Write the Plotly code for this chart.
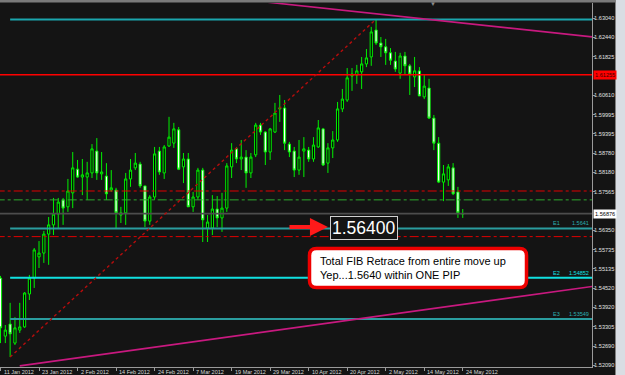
import plotly.graph_objects as go
import pandas as pd

# ---------------- data ----------------
dates = pd.bdate_range("2012-01-11", "2012-05-24")  # 97 daily bars
open_ = [1.5484, 1.5301, 1.5339, 1.5279, 1.5320, 1.5330, 1.5434, 1.5484, 1.5551, 1.5563,
         1.5623, 1.5652, 1.5686, 1.5731, 1.5709, 1.5753, 1.5828, 1.5803, 1.5803, 1.5816,
         1.5885, 1.5813, 1.5806, 1.5762, 1.5762, 1.5683, 1.5690, 1.5797, 1.5832, 1.5844,
         1.5775, 1.5664, 1.5740, 1.5885, 1.5816, 1.5901, 1.5910, 1.5952, 1.5835, 1.5860,
         1.5709, 1.5740, 1.5825, 1.5642, 1.5642, 1.5702, 1.5674, 1.5705, 1.5835, 1.5892,
         1.5860, 1.5866, 1.5816, 1.5873, 1.5967, 1.5945, 1.5882, 1.5945, 1.6018, 1.6021,
         1.5907, 1.5885, 1.5825, 1.5885, 1.5888, 1.5860, 1.5898, 1.5955, 1.5847, 1.5895,
         1.5920, 1.6018, 1.6046, 1.6122, 1.6125, 1.6135, 1.6160, 1.6182, 1.6267, 1.6226,
         1.6214, 1.6195, 1.6169, 1.6131, 1.6185, 1.6154, 1.6119, 1.6138, 1.6056, 1.6084,
         1.5989, 1.5910, 1.5787, 1.5794, 1.5832, 1.5756, 1.5686]
high = [1.5491, 1.5336, 1.5406, 1.5361, 1.5406, 1.5440, 1.5494, 1.5579, 1.5601, 1.5633,
        1.5677, 1.5737, 1.5737, 1.5737, 1.5797, 1.5882, 1.5857, 1.5860, 1.5851, 1.5907,
        1.5926, 1.5882, 1.5847, 1.5825, 1.5769, 1.5709, 1.5816, 1.5860, 1.5879, 1.5851,
        1.5775, 1.5746, 1.5898, 1.5898, 1.5904, 1.5993, 1.5974, 1.5961, 1.5879, 1.5879,
        1.5756, 1.5832, 1.5832, 1.5683, 1.5746, 1.5743, 1.5753, 1.5847, 1.5910, 1.5898,
        1.5920, 1.5888, 1.5879, 1.5974, 1.5974, 1.5948, 1.5958, 1.6037, 1.6062, 1.6046,
        1.5914, 1.5898, 1.5920, 1.5929, 1.5898, 1.5929, 1.5983, 1.5958, 1.5910, 1.5948,
        1.6040, 1.6081, 1.6147, 1.6147, 1.6157, 1.6182, 1.6207, 1.6277, 1.6301, 1.6245,
        1.6239, 1.6210, 1.6198, 1.6195, 1.6198, 1.6160, 1.6182, 1.6150, 1.6125, 1.6113,
        1.5999, 1.5929, 1.5841, 1.5844, 1.5847, 1.5772, 1.5702]
low = [1.5279, 1.5279, 1.5235, 1.5273, 1.5311, 1.5327, 1.5415, 1.5453, 1.5516, 1.5532,
       1.5526, 1.5620, 1.5642, 1.5652, 1.5693, 1.5705, 1.5800, 1.5746, 1.5731, 1.5800,
       1.5794, 1.5794, 1.5731, 1.5756, 1.5642, 1.5658, 1.5652, 1.5772, 1.5825, 1.5769,
       1.5645, 1.5652, 1.5731, 1.5810, 1.5797, 1.5898, 1.5895, 1.5825, 1.5784, 1.5709,
       1.5693, 1.5731, 1.5598, 1.5598, 1.5620, 1.5645, 1.5630, 1.5693, 1.5800, 1.5847,
       1.5825, 1.5769, 1.5800, 1.5866, 1.5936, 1.5841, 1.5857, 1.5942, 1.5977, 1.5888,
       1.5866, 1.5803, 1.5810, 1.5803, 1.5851, 1.5851, 1.5895, 1.5838, 1.5816, 1.5863,
       1.5914, 1.6008, 1.6040, 1.6075, 1.6097, 1.6081, 1.6150, 1.6154, 1.6220, 1.6182,
       1.6157, 1.6157, 1.6135, 1.6113, 1.6125, 1.6062, 1.6087, 1.6059, 1.6049, 1.5986,
       1.5888, 1.5784, 1.5727, 1.5775, 1.5746, 1.5674, 1.5674]
close = [1.5327, 1.5320, 1.5308, 1.5327, 1.5330, 1.5437, 1.5484, 1.5573, 1.5563, 1.5623,
         1.5652, 1.5686, 1.5724, 1.5705, 1.5759, 1.5832, 1.5803, 1.5810, 1.5816, 1.5892,
         1.5816, 1.5819, 1.5750, 1.5769, 1.5690, 1.5690, 1.5797, 1.5825, 1.5847, 1.5775,
         1.5664, 1.5740, 1.5876, 1.5819, 1.5898, 1.5929, 1.5955, 1.5828, 1.5860, 1.5709,
         1.5740, 1.5825, 1.5668, 1.5661, 1.5702, 1.5674, 1.5705, 1.5838, 1.5888, 1.5860,
         1.5866, 1.5816, 1.5866, 1.5967, 1.5945, 1.5882, 1.5955, 1.6005, 1.6021, 1.5910,
         1.5882, 1.5825, 1.5866, 1.5892, 1.5860, 1.5904, 1.5958, 1.5841, 1.5895, 1.5920,
         1.6018, 1.6049, 1.6116, 1.6128, 1.6138, 1.6160, 1.6179, 1.6261, 1.6226, 1.6214,
         1.6195, 1.6172, 1.6144, 1.6185, 1.6154, 1.6128, 1.6138, 1.6059, 1.6090, 1.5989,
         1.5910, 1.5787, 1.5813, 1.5835, 1.5750, 1.5690, 1.56876]

y_ticks = [1.63040, 1.62440, 1.61825, 1.60610, 1.59995, 1.59395, 1.58780, 1.58180, 1.57565,
           1.56350, 1.55735, 1.55135, 1.54520, 1.53920, 1.53305, 1.52690, 1.52090]
date_tick_step = 8

# drawn objects (bar index, price)
fib_start_bar = 2
fib_line_x = [2, 78]
fib_line_y = [1.5235, 1.6301]
fib_top = 1.6300
e_levels = [1.5641, 1.54852, 1.53549]
e_names = ["E1", "E2", "E3"]
e_texts = ["1.5641", "1.54852", "1.53549"]
red_level = 1.61255
red_dashdot_levels = [1.5759, 1.5615]
green_dashdot_levels = [1.5731]
last_price = 1.56876
upper_trend_x = [40, 123]
upper_trend_y = [1.6380, 1.6245]
lower_trend_x = [4, 123]
lower_trend_y = [1.5207, 1.5458]
arrow_x = [59.7, 68.0]
arrow_y = 1.5645
note_big = "1.56400"
note_lines = ["Total FIB Retrace from entire move up", "Yep...1.5640 within ONE PIP"]

# ---------------- figure ----------------
W, H = 625, 375
BG = "#141414"
bars = list(range(len(open_)))
x_end = 123

fig = go.Figure()

def hline(y, color, width, dash="solid", x0=None):
    fig.add_trace(go.Scatter(x=[bars[0] - 1 if x0 is None else x0, x_end], y=[y, y], mode="lines",
                             line=dict(color=color, width=width, dash=dash), hoverinfo="skip"))

hline(last_price, "#4d4d4d", 1.6)
hline(red_level, "#ff0000", 1.5)
for lv in red_dashdot_levels:
    hline(lv, "#e00000", 1, "dashdot")
for lv in green_dashdot_levels:
    hline(lv, "#2ea82e", 1, "dashdot")
hline(fib_top, "#1ba6ad", 2, x0=fib_start_bar)
for lv, c in zip(e_levels, ["#2a9d9f", "#10e0e0", "#2a9d9f"]):
    hline(lv, c, 2, x0=fib_start_bar)

fig.add_trace(go.Scatter(x=upper_trend_x, y=upper_trend_y, mode="lines",
                         line=dict(color="#c8197f", width=1.6), hoverinfo="skip"))
fig.add_trace(go.Scatter(x=lower_trend_x, y=lower_trend_y, mode="lines",
                         line=dict(color="#c8197f", width=1.6), hoverinfo="skip"))
fig.add_trace(go.Scatter(x=fib_line_x, y=fib_line_y, mode="lines",
                         line=dict(color="#b50d0d", width=1.4, dash="dot"), hoverinfo="skip"))

fig.add_trace(go.Candlestick(
    x=bars, open=open_, high=high, low=low, close=close,
    increasing=dict(line=dict(color="#00f000", width=1), fillcolor="#000000"),
    decreasing=dict(line=dict(color="#00f000", width=1), fillcolor="#ffffff"),
    whiskerwidth=0, hoverinfo="skip"))

# price range of plot
y_lo, y_hi = 1.52035, 1.63523
x_lo = -0.104
x_hi = x_lo + 592 / 4.815

ann = []
# date labels
tick_idx = list(range(0, len(dates), date_tick_step))
for i in tick_idx:
    ann.append(dict(x=i, xref="x", y=(H - 371.5) / H, yref="paper", xanchor="left", yanchor="middle",
                    text=f"{dates[i].day} {dates[i].strftime('%b %Y')}", showarrow=False, xshift=1,
                    font=dict(family="Liberation Sans", size=5.5, color="#d8d8d8")))
# right price labels
ann.append(dict(x=593 / W, xref="paper", y=red_level, yref="y", xanchor="left", yanchor="middle",
                text=f"{red_level:.5f}", showarrow=False, bgcolor="#ff0000", borderpad=1,
                font=dict(family="Liberation Sans", size=5.6, color="#3a0000")))
ann.append(dict(x=593 / W, xref="paper", y=last_price, yref="y", xanchor="left", yanchor="middle",
                text=f"{last_price:.5f}", showarrow=False, bgcolor="#ffffff", borderpad=1,
                font=dict(family="Liberation Sans", size=5.6, color="#000000")))
# E labels
for lv, nm, tx, c in zip(e_levels, e_names, e_texts, ["#2ab0b0", "#10e0e0", "#2ab0b0"]):
    ann.append(dict(x=115.5, xref="x", y=lv, yref="y", xanchor="center", yanchor="bottom",
                    text=nm, showarrow=False, yshift=0,
                    font=dict(family="Liberation Sans", size=5.5, color=c)))
    ann.append(dict(x=x_hi, xref="x", y=lv, yref="y", xanchor="right", yanchor="bottom",
                    text=tx, showarrow=False, xshift=-1,
                    font=dict(family="Liberation Sans", size=5.5, color=c)))
# arrow
ann.append(dict(x=arrow_x[1], y=arrow_y, xref="x", yref="y", ax=arrow_x[0], ay=arrow_y,
                axref="x", ayref="y", text="", showarrow=True, arrowhead=2, arrowsize=0.9,
                arrowwidth=4, arrowcolor="#ff1a1a", standoff=0))
# big value box
ann.append(dict(x=364 / W, y=(H - 228) / H, xref="paper", yref="paper", text=note_big,
                showarrow=False, xanchor="center", yanchor="middle", bgcolor=BG,
                bordercolor="#d0d0d0", borderwidth=1, borderpad=1,
                font=dict(family="Liberation Sans", size=17.5, color="#ffffff")))
# note text
ann.append(dict(x=318 / W, y=(H - 268) / H, xref="paper", yref="paper",
                text="<br>".join(note_lines), showarrow=False, xanchor="left", yanchor="middle",
                align="left", font=dict(family="Liberation Sans", size=11, color="#000000")))
# shift marker
ann.append(dict(x=433 / W, y=(H - 4) / H, xref="paper", yref="paper", text="▼", showarrow=False,
                font=dict(size=6, color="#8a8a8a"), xanchor="center", yanchor="middle"))

# rounded note box
def px(x, y):
    return f"{x / W:.5f},{1 - y / H:.5f}"

x0, x1, y0, y1, r = 309.5, 526.5, 248.5, 287.5, 7
path = (f"M {px(x0 + r, y0)} L {px(x1 - r, y0)} Q {px(x1, y0)} {px(x1, y0 + r)} "
        f"L {px(x1, y1 - r)} Q {px(x1, y1)} {px(x1 - r, y1)} L {px(x0 + r, y1)} "
        f"Q {px(x0, y1)} {px(x0, y1 - r)} L {px(x0, y0 + r)} Q {px(x0, y0)} {px(x0 + r, y0)} Z")
shapes = [
    dict(type="path", xref="paper", yref="paper", path=path, fillcolor="#ffffff",
         line=dict(color="#ee0000", width=3.5), layer="above"),
    dict(type="rect", xref="paper", yref="paper", x0=0, x1=1, y0=1 - 2.5 / H, y1=1,
         fillcolor="#7a7a7a", line=dict(width=0), layer="above"),
    dict(type="rect", xref="paper", yref="paper", x0=616 / W, x1=1, y0=0, y1=1,
         fillcolor="#d9dde3", line=dict(width=0), layer="above"),
    dict(type="line", xref="paper", yref="paper", x0=615.5 / W, x1=615.5 / W, y0=0, y1=1,
         line=dict(color="#808080", width=1), layer="above"),
]

fig.update_layout(
    width=W, height=H, margin=dict(l=0, r=0, t=0, b=0),
    paper_bgcolor=BG, plot_bgcolor=BG, showlegend=False,
    annotations=ann, shapes=shapes, boxgap=0.35,
    xaxis=dict(domain=[0, 592 / W], range=[x_lo, x_hi], showgrid=False, zeroline=False,
               rangeslider=dict(visible=False), tickvals=tick_idx, showticklabels=False,
               ticks="outside", ticklen=3, tickcolor="#9a9a9a", showline=True,
               linecolor="#9a9a9a", linewidth=1, fixedrange=True),
    yaxis=dict(domain=[8 / H, 372 / H], range=[y_lo, y_hi], side="right", showgrid=False,
               zeroline=False, tickvals=y_ticks, ticktext=[f"{v:.5f}" for v in y_ticks],
               ticks="outside", ticklen=2, tickcolor="#9a9a9a", showline=True,
               linecolor="#9a9a9a", linewidth=1, automargin=False, ticklabelstandoff=-2,
               tickfont=dict(family="Liberation Sans", size=5.6, color="#e0e0e0")),
)

fig.write_html("out.html")
